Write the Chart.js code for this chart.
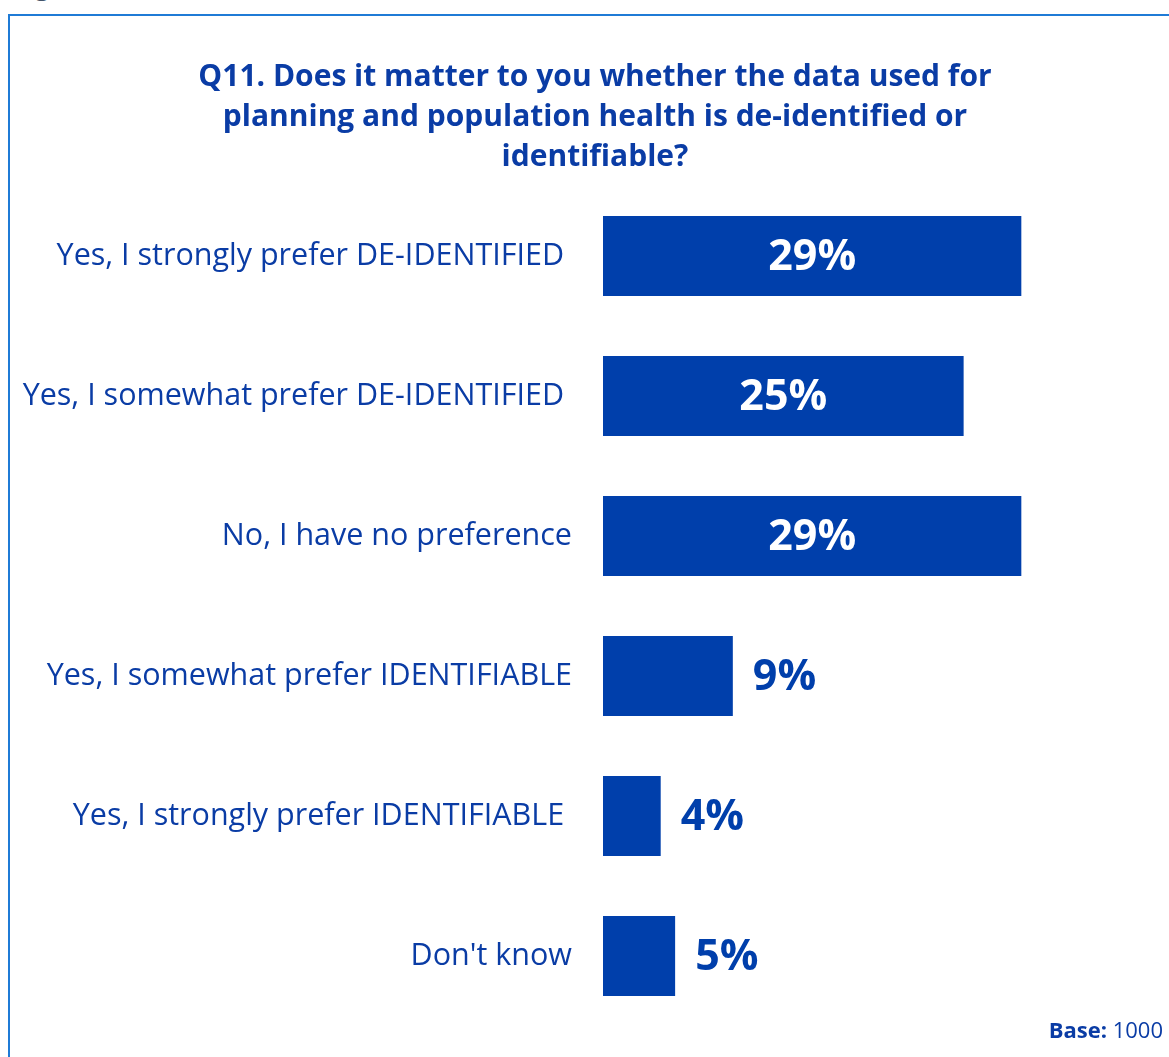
<!DOCTYPE html>
<html>
<head>
<meta charset="utf-8">
<script src="https://cdn.jsdelivr.net/npm/chart.js@4/dist/chart.umd.min.js"></script>
<style>
  html, body { margin: 0; padding: 0; width: 1169px; height: 1057px; overflow: hidden; background: #fff; }
  #frame { position: absolute; left: 8px; top: 14px; width: 1300px; height: 1200px; border: 2px solid #1f7bd6; box-sizing: border-box; }
  #fig { position: absolute; left: 14px; top: -33px; font: 600 26px "Open Sans", sans-serif; color: #44546a; }
  #c { position: absolute; left: 10px; top: 16px; }
  #base { position: absolute; right: 6px; top: 1014px; font: 22px "Open Sans", sans-serif; color: #0a3ca5; }
</style>
</head>
<body>
<div id="fig">Figure 11</div>
<div id="frame"></div>
<canvas id="c" width="1170" height="1041"></canvas>
<div id="base"><b>Base:</b> 1000</div>
<script>
const titleLines = [
  "Q11. Does it matter to you whether the data used for",
  "planning and population health is de-identified or",
  "identifiable?"
];
const categories = [
  "Yes, I strongly prefer DE-IDENTIFIED ",
  "Yes, I somewhat prefer DE-IDENTIFIED ",
  "No, I have no preference",
  "Yes, I somewhat prefer IDENTIFIABLE",
  "Yes, I strongly prefer IDENTIFIABLE ",
  "Don't know"
];
const values = [29, 25, 29, 9, 4, 5];

const BLUE = '#003fab';
const TEXT = '#0a3ca5';

const labelPlugin = {
  id: 'barLabels',
  afterDatasetsDraw(chart) {
    const ctx = chart.ctx;
    const meta = chart.getDatasetMeta(0);
    ctx.save();
    ctx.font = 'bold 43px "Open Sans", sans-serif';
    ctx.textBaseline = 'middle';
    meta.data.forEach((bar, i) => {
      const v = values[i];
      const txt = v + '%';
      if (v >= 20) {
        ctx.fillStyle = '#ffffff';
        ctx.textAlign = 'center';
        ctx.fillText(txt, (bar.base + bar.x) / 2, bar.y + 2);
      } else {
        ctx.fillStyle = BLUE;
        ctx.textAlign = 'left';
        ctx.fillText(txt, bar.x + 20, bar.y + 2);
      }
    });
    ctx.restore();
  }
};

new Chart(document.getElementById('c'), {
  type: 'bar',
  data: {
    labels: categories,
    datasets: [{
      data: values,
      backgroundColor: BLUE,
      borderWidth: 0,
      categoryPercentage: 1,
      barPercentage: 0.5714
    }]
  },
  options: {
    indexAxis: 'y',
    responsive: false,
    animation: false,
    layout: { padding: { top: 0, right: 0, bottom: 31, left: 0 } },
    plugins: {
      legend: { display: false },
      tooltip: { enabled: false },
      title: {
        display: true,
        text: titleLines,
        color: TEXT,
        font: { family: '"Open Sans", sans-serif', size: 30, weight: 'bold', lineHeight: 40 / 30 },
        padding: { top: 41, bottom: 9 }
      }
    },
    scales: {
      x: { display: false, min: 0, max: 40 },
      y: {
        grid: { display: false },
        border: { display: false },
        ticks: {
          color: TEXT,
          padding: 23,
          font: { family: '"Open Sans", sans-serif', size: 30.5 }
        },
        afterFit(scale) {
          scale.width = 593;
          scale.paddingTop = 0;
          scale.paddingBottom = 0;
        }
      }
    }
  },
  plugins: [labelPlugin]
});
</script>
</body>
</html>
